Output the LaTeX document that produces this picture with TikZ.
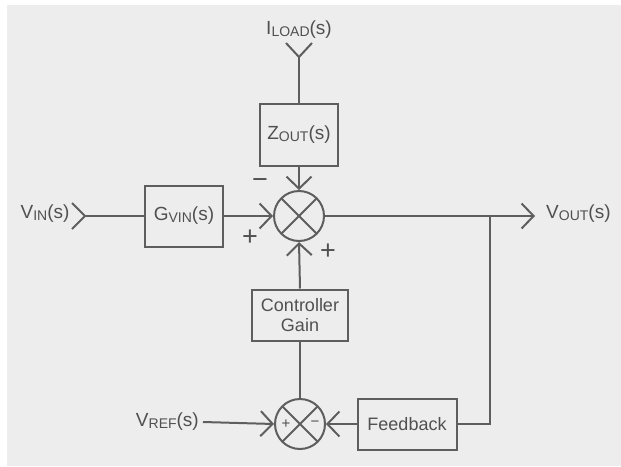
\documentclass[tikz,border=0pt]{standalone}
\usepackage{fontspec}
\setmainfont{Liberation Sans}
\usetikzlibrary{arrows.meta}
\definecolor{bg}{HTML}{EDEDED}
\definecolor{ln}{HTML}{5E5E5E}
\definecolor{tx}{HTML}{505050}
\newcommand\lsub[1]{\raisebox{-2pt}{\fontsize{14}{14}\selectfont #1}}
\tikzset{
  lbl/.style={font=\fontsize{19}{21}\selectfont, text=tx, inner sep=0pt},
  blk/.style={draw=ln, line width=2pt, fill=bg, inner sep=0pt, font=\fontsize{19}{21}\selectfont, text=tx, align=center},
  sumj/.style={draw=ln, line width=2pt, circle, minimum size=50pt, inner sep=0pt,
    path picture={\draw[ln, line width=2pt]
      (path picture bounding box.south west) -- (path picture bounding box.north east)
      (path picture bounding box.north west) -- (path picture bounding box.south east);}},
  wire/.style={draw=ln, line width=2pt},
  barb/.style={-{Straight Barb[length=12pt,width=25pt,line width=2pt]}},
  sgn/.style={font=\fontsize{27}{27}\selectfont, text=tx, inner sep=0pt},
  isgn/.style={font=\fontsize{15}{15}\selectfont, text=tx, inner sep=0pt}
}
\begin{document}
\begin{tikzpicture}[x=1pt,y=-1pt]
\useasboundingbox (0,0) rectangle (621,466);
\fill[white] (0,0) rectangle (621,466);
\fill[bg] (7,5) rectangle (621,466);

% nodes
\node[lbl] (iload) at (299,30) {I\lsub{LOAD}(s)};
\coordinate (iltip) at (299,57);
\node[blk, minimum width=78pt, minimum height=62pt] (zout) at (299,135) {Z\lsub{OUT}(s)};
\node[sumj] (sum1) at (299,216) {};
\node[lbl] (vin) at (45,214) {V\lsub{IN}(s)};
\coordinate (vintip) at (85,216);
\node[blk, minimum width=78pt, minimum height=61pt] (gvin) at (184,216) {G\lsub{VIN}(s)};
\coordinate (vouttip) at (535,216);
\node[lbl, anchor=west] (vout) at (546,214) {V\lsub{OUT}(s)};
\coordinate (tap) at (490,216);
\node[blk, minimum width=96pt, minimum height=51pt, font=\fontsize{18}{20}\selectfont] (ctrl) at (300,315) {Controller\\Gain};
\node[sumj] (sum2) at (300,424) {};
\node[blk, minimum width=99pt, minimum height=51pt, font=\fontsize{18}{20}\selectfont] (fb) at (407,424) {Feedback};
\node[lbl, anchor=east] (vref) at (199,422) {V\lsub{REF}(s)};
\coordinate (fbcorner) at (490,424);

% signs
\node[sgn] (m1) at (260,184) {−};
\node[sgn] (p1) at (250,238) {+};
\node[sgn] (p2) at (328,252) {+};
\node[isgn] (p3) at (286,424) {+};
\node[isgn] (m3) at (315,424) {−};

% connectors
\draw[wire] (iltip) ++(-13,-14) -- (iltip) -- ++(13,-14);
\draw[wire] (iltip) -- (zout.north);
\draw[wire, barb] (zout.south) -- (sum1.north);
\draw[wire] (vintip) ++(-13,-13) -- (vintip) -- ++(-13,13);
\draw[wire] (vintip) -- (gvin.west);
\draw[wire, barb] (gvin.east) -- (sum1.west);
\draw[wire, barb] (sum1.east) -- (vouttip);
\draw[wire, barb] (ctrl.north) -- (sum1.south);
\draw[wire] (sum2.north) -- (ctrl.south);
\draw[wire, barb] (vref.east) ++(4,0) -- (sum2.west);
\draw[wire, barb] (fb.west) -- (sum2.east);
\draw[wire] (tap) -- (fbcorner) -- (fb.east);
\end{tikzpicture}
\end{document}
